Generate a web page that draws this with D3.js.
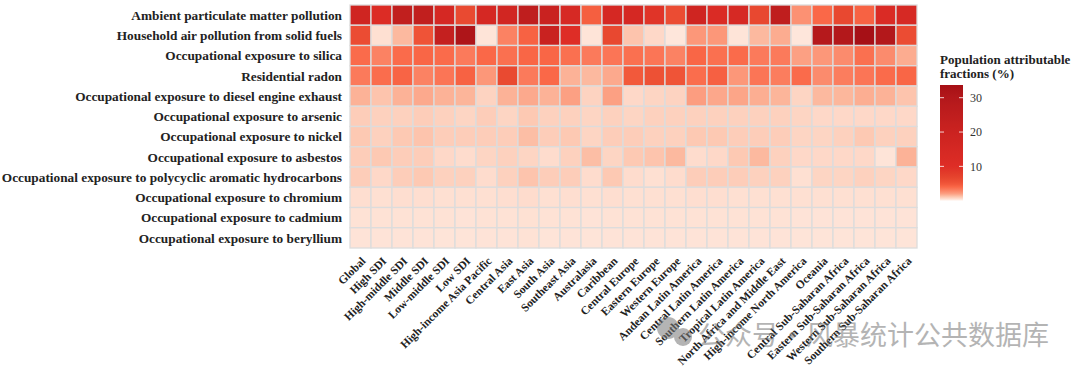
<!DOCTYPE html>
<html lang="en">
<head>
<meta charset="UTF-8">
<title>Population attributable fractions heatmap</title>
<script src="https://cdnjs.cloudflare.com/ajax/libs/d3/7.8.5/d3.min.js"></script>
<style>
  body { margin: 0; background: #fff; }
  svg { display: block; }
  .lab { font-family: "Liberation Serif", "Times New Roman", serif; font-weight: bold; fill: #222; }
</style>
</head>
<body>
<svg width="1080" height="377"></svg>
<script>
// regions along the x axis
const regions = ["Global", "High SDI", "High-middle SDI", "Middle SDI", "Low-middle SDI", "Low SDI",
  "High-income Asia Pacific", "Central Asia", "East Asia", "South Asia", "Southeast Asia", "Australasia",
  "Caribbean", "Central Europe", "Eastern Europe", "Western Europe", "Andean Latin America",
  "Central Latin America", "Southern Latin America", "Tropical Latin America", "North Africa and Middle East",
  "High-income North America", "Oceania", "Central Sub-Saharan Africa", "Eastern Sub-Saharan Africa",
  "Western Sub-Saharan Africa", "Southern Sub-Saharan Africa"];

// risk factors along the y axis
const risks = ["Ambient particulate matter pollution", "Household air pollution from solid fuels",
  "Occupational exposure to silica", "Residential radon", "Occupational exposure to diesel engine exhaust",
  "Occupational exposure to arsenic", "Occupational exposure to nickel", "Occupational exposure to asbestos",
  "Occupational exposure to polycyclic aromatic hydrocarbons", "Occupational exposure to chromium",
  "Occupational exposure to cadmium", "Occupational exposure to beryllium"];

// PAF (%) per risk, one value per region
const ambientPM   = [18, 11, 24, 24, 15, 6.2, 15, 17, 25, 21, 14, 4.5, 15, 15, 9, 6, 18, 12, 14, 6.5, 25, 2.5, 4, 6.5, 4.3, 12, 14];
const household   = [6, 0.5, 1.45, 5.2, 23, 31.5, 0.4, 3.0, 4.3, 21, 10, 0.4, 6.5, 1.2, 0.7, 0.35, 2.3, 2.3, 0.4, 1.45, 1.75, 0.35, 29, 30, 33.6, 30, 6];
const silica      = [3.9, 3.0, 3.9, 4.1, 3.9, 3.3, 4.0, 3.7, 4.1, 4.1, 3.7, 3.3, 3.5, 3.7, 3.5, 3.0, 4.1, 3.7, 3.9, 3.3, 3.3, 2.0, 2.3, 2.7, 3.7, 2.7, 1.75];
const radon       = [3.3, 3.8, 4.2, 3.0, 3.5, 4.3, 2.3, 6.2, 3.3, 4.0, 1.6, 1.45, 1.8, 4.8, 5.5, 5.1, 3.8, 4.4, 2.3, 3.5, 3.2, 3.9, 2.7, 3.2, 3.5, 3.9, 4.1];
const diesel      = [1.6, 1.2, 1.6, 1.8, 1.6, 1.55, 0.85, 1.6, 1.8, 1.6, 2.0, 0.85, 2.0, 0.7, 0.8, 0.85, 2.1, 1.85, 1.9, 1.7, 1.55, 0.8, 1.45, 1.5, 1.7, 1.6, 1.2];
const arsenic     = [1.0, 0.9, 0.9, 1.0, 0.9, 0.8, 1.0, 0.8, 1.1, 0.9, 0.9, 0.8, 0.9, 0.8, 0.9, 0.9, 0.9, 0.9, 0.9, 0.9, 0.9, 0.8, 0.7, 0.7, 0.7, 0.7, 0.7];
const nickel      = [1.1, 0.9, 1.1, 1.2, 1.0, 1.0, 1.0, 1.0, 1.35, 1.0, 1.1, 0.8, 1.0, 1.0, 0.9, 0.9, 1.1, 1.1, 1.0, 1.0, 1.0, 0.8, 0.8, 0.9, 1.1, 0.9, 0.9];
const asbestos    = [1.0, 1.1, 1.0, 1.0, 0.7, 0.6, 0.8, 0.9, 0.8, 0.6, 0.9, 1.35, 0.8, 1.1, 1.2, 1.45, 0.6, 0.7, 1.1, 1.45, 0.9, 0.7, 0.7, 0.7, 0.7, 0.4, 1.6];
const pah         = [1.0, 0.7, 1.0, 1.1, 0.9, 0.9, 0.6, 0.9, 1.2, 1.0, 1.0, 0.6, 1.1, 0.6, 0.5, 0.6, 1.0, 1.0, 1.0, 0.9, 0.9, 0.5, 0.8, 0.8, 0.9, 0.8, 0.7];
const chromium    = [0.55, 0.5, 0.55, 0.55, 0.5, 0.5, 0.5, 0.55, 0.6, 0.5, 0.55, 0.5, 0.55, 0.5, 0.5, 0.5, 0.55, 0.55, 0.5, 0.5, 0.5, 0.5, 0.5, 0.5, 0.5, 0.5, 0.5];
const cadmium     = [0.45, 0.45, 0.45, 0.45, 0.45, 0.42, 0.45, 0.45, 0.48, 0.45, 0.45, 0.42, 0.45, 0.45, 0.45, 0.45, 0.45, 0.45, 0.45, 0.45, 0.45, 0.42, 0.42, 0.42, 0.42, 0.42, 0.42];
const beryllium   = [0.42, 0.42, 0.42, 0.42, 0.4, 0.4, 0.42, 0.42, 0.45, 0.4, 0.42, 0.4, 0.42, 0.42, 0.42, 0.42, 0.42, 0.42, 0.42, 0.42, 0.42, 0.4, 0.4, 0.4, 0.4, 0.4, 0.4];

const pafRows = [ambientPM, household, silica, radon, diesel, arsenic, nickel, asbestos, pah, chromium, cadmium, beryllium];
const legendTicks = [10, 20, 30];
const legendMax = 33.7;

const svg = d3.select("svg");

const x = d3.scaleBand().domain(regions).range([350, 917]);
const y = d3.scaleBand().domain(risks).range([5, 248]);

const color = d3.scaleLinear()
  .domain([0, 0.5, 1, 1.5, 2, 3, 4, 5, 7, 10, 20, 30, 34])
  .range(["#fff5f0", "#fee0d2", "#fdcdb9", "#fcb79c", "#fca083", "#fb8263", "#fa6848",
          "#f05538", "#e5432d", "#de2d26", "#cb2320", "#b3181b", "#a50f15"])
  .clamp(true);

const cells = [];
risks.forEach((r, i) => regions.forEach((g, j) => cells.push({ risk: r, region: g, value: pafRows[i][j] })));

svg.append("g")
  .selectAll("rect")
  .data(cells)
  .enter()
  .append("rect")
  .attr("x", d => x(d.region))
  .attr("y", d => y(d.risk))
  .attr("width", x.bandwidth())
  .attr("height", y.bandwidth())
  .attr("fill", d => color(d.value))
  .attr("stroke", "#dcdcdc")
  .attr("stroke-width", 1.3);

// y labels
svg.append("g")
  .selectAll("text")
  .data(risks)
  .enter()
  .append("text")
  .attr("class", "lab")
  .attr("x", 342)
  .attr("y", d => y(d) + y.bandwidth() / 2)
  .attr("dy", "0.35em")
  .attr("text-anchor", "end")
  .style("font-size", "13.3px")
  .text(d => d);

// x labels, rotated
svg.append("g")
  .selectAll("text")
  .data(regions)
  .enter()
  .append("text")
  .attr("class", "lab")
  .attr("transform", d => `translate(${x(d) + x.bandwidth() / 2},256) rotate(-45)`)
  .attr("dy", "0.71em")
  .attr("text-anchor", "end")
  .style("font-size", "11.5px")
  .text(d => d);

// legend
const defs = svg.append("defs");
const grad = defs.append("linearGradient")
  .attr("id", "pafGrad")
  .attr("x1", 0).attr("y1", 1).attr("x2", 0).attr("y2", 0);
d3.range(0, 1.0001, 0.02).forEach(t => {
  grad.append("stop").attr("offset", t).attr("stop-color", color(t * legendMax));
});

const ly = d3.scaleLinear().domain([0, legendMax]).range([200.7, 85]);
const lx0 = 940, lw = 23;

svg.append("rect")
  .attr("x", lx0).attr("y", ly(legendMax))
  .attr("width", lw).attr("height", ly(0) - ly(legendMax))
  .attr("fill", "url(#pafGrad)");

const lg = svg.append("g");
legendTicks.forEach(t => {
  lg.append("line").attr("x1", lx0).attr("x2", lx0 + 4).attr("y1", ly(t)).attr("y2", ly(t))
    .attr("stroke", "#fff").attr("stroke-opacity", 0.8);
  lg.append("line").attr("x1", lx0 + lw - 4).attr("x2", lx0 + lw).attr("y1", ly(t)).attr("y2", ly(t))
    .attr("stroke", "#fff").attr("stroke-opacity", 0.8);
  lg.append("text")
    .attr("x", lx0 + lw + 7).attr("y", ly(t)).attr("dy", "0.35em")
    .style("font-family", "'Liberation Serif', serif").style("font-size", "12px").attr("fill", "#333")
    .text(t);
});

svg.append("text").attr("class", "lab").attr("x", 940).attr("y", 64)
  .style("font-size", "13px").text("Population attributable");
svg.append("text").attr("class", "lab").attr("x", 940).attr("y", 78)
  .style("font-size", "13px").text("fractions (%)");

// watermark
const wm = svg.append("g").attr("opacity", 0.55);
wm.append("circle").attr("cx", 668).attr("cy", 328).attr("r", 11).attr("fill", "#777");
wm.append("circle").attr("cx", 683).attr("cy", 337).attr("r", 9).attr("fill", "#777");
wm.append("text").attr("x", 698).attr("y", 345)
  .style("font-family", "'Noto Sans CJK SC', sans-serif").style("font-size", "27px").attr("fill", "#777")
  .text("公众号·风暴统计公共数据库");
</script>
</body>
</html>
